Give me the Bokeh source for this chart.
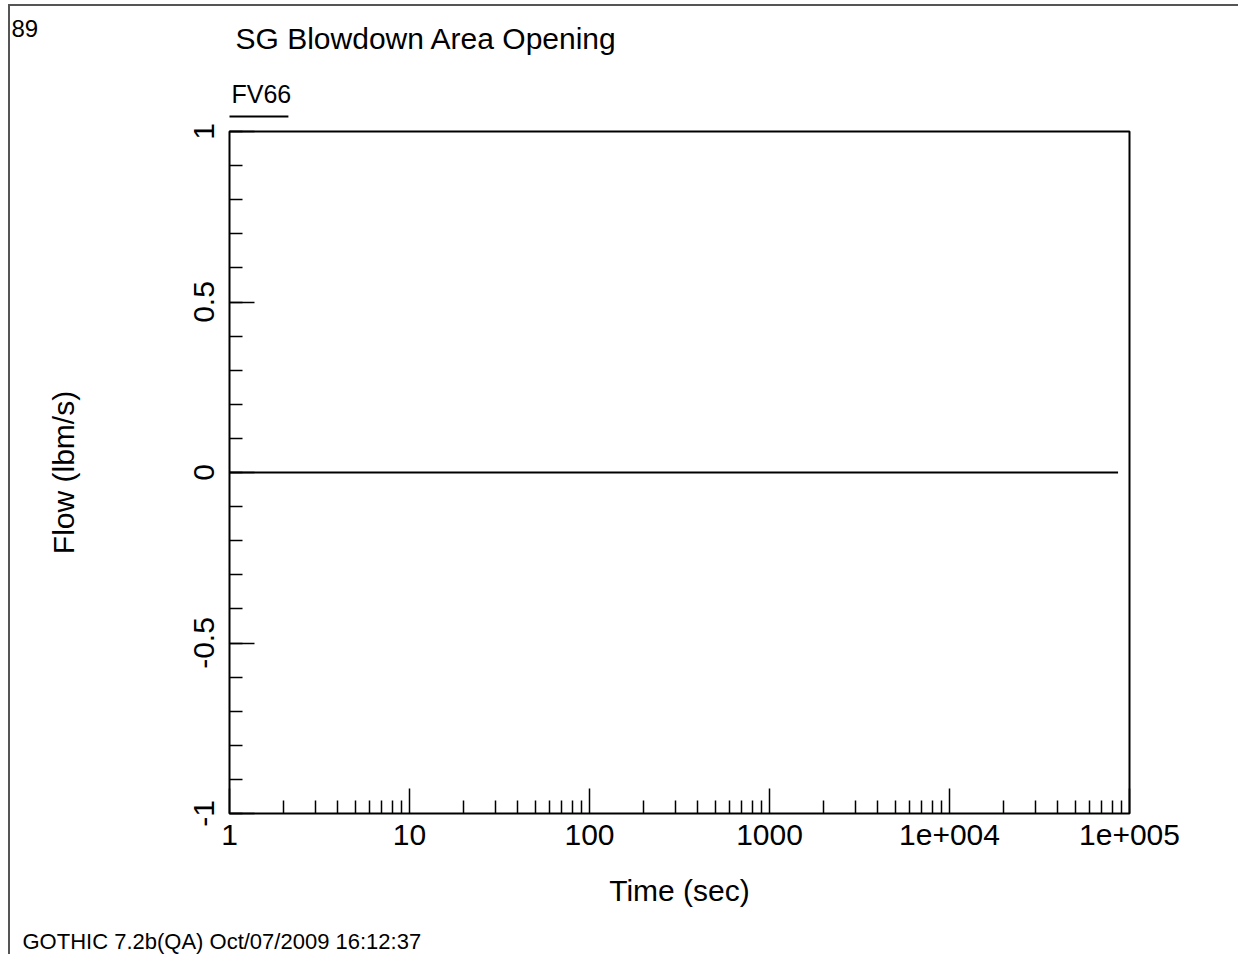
from bokeh.plotting import figure
from bokeh.models import FixedTicker, CustomJSTickFormatter, Label, ColumnDataSource
from bokeh.embed import file_html
from bokeh.resources import INLINE

# ---- data ----
time_sec = [1, 10, 100, 1000, 10000, 86400]
flow_fv66 = [0, 0, 0, 0, 0, 0]
series_name = "FV66"

x_ticks = [1, 10, 100, 1000, 10000, 100000]
x_tick_labels = ["1", "10", "100", "1000", "1e+004", "1e+005"]
y_ticks = [-1, -0.5, 0, 0.5, 1]
y_tick_labels = ["-1", "-0.5", "0", "0.5", "1"]

title_text = "SG Blowdown Area Opening"
page_number = "89"
footer_text = "GOTHIC 7.2b(QA) Oct/07/2009 16:12:37"
x_label = "Time (sec)"
y_label = "Flow (lbm/s)"

FONT = "Liberation Sans"
W, H = 1238, 954
FL, FT, FR, FB = 229, 131, 1129, 813   # frame edges on the canvas

p = figure(width=W, height=H, x_axis_type="log", x_range=(1, 1e5), y_range=(-1, 1),
           output_backend="svg", toolbar_location=None, title=None,
           min_border_left=FL, min_border_right=W - FR, min_border_top=FT,
           min_border_bottom=H - FB)
p.grid.visible = False
p.background_fill_color = "white"
p.border_fill_alpha = 0
p.outline_line_color = "black"
p.outline_line_width = 2
# page border (top and left edges)
p.styles = {"box-shadow": "inset 8px 4px 0 0 white, inset 10px 6px 0 0 #555555",
            "background-color": "white"}

src = ColumnDataSource(dict(t=time_sec, f=flow_fv66))
r = p.line("t", "f", source=src, line_color="black", line_width=2)

minor_x = [m * d for d in [1, 10, 100, 1000, 10000] for m in range(2, 10)]
minor_y = [round(-1 + 0.1 * i, 2) for i in range(21)]

fmt_code = """
for (let i = 0; i < tvals.length; i++) {
  if (Math.abs(tvals[i] - tick) <= 1e-6 * Math.max(1, Math.abs(tvals[i]))) return tlabs[i];
}
return "";
"""

xa = p.xaxis[0]
xa.ticker = FixedTicker(ticks=x_ticks, minor_ticks=minor_x)
xa.formatter = CustomJSTickFormatter(args=dict(tvals=x_ticks, tlabs=x_tick_labels), code=fmt_code)
ya = p.yaxis[0]
ya.ticker = FixedTicker(ticks=y_ticks, minor_ticks=minor_y)
ya.formatter = CustomJSTickFormatter(args=dict(tvals=y_ticks, tlabs=y_tick_labels), code=fmt_code)

for ax in (xa, ya):
    ax.axis_line_color = None
    ax.major_tick_in = 25
    ax.major_tick_out = 0
    ax.minor_tick_in = 13
    ax.minor_tick_out = 0
    ax.major_tick_line_color = "black"
    ax.minor_tick_line_color = "black"
    ax.major_tick_line_width = 1.5
    ax.minor_tick_line_width = 1.5
    ax.major_label_text_font = FONT
    ax.major_label_text_font_size = "30px"
    ax.major_label_text_color = "black"
    ax.axis_label_text_font = FONT
    ax.axis_label_text_font_size = "30px"
    ax.axis_label_text_font_style = "normal"
    ax.axis_label_text_color = "black"

xa.axis_label = x_label
xa.major_label_standoff = 11
xa.axis_label_standoff = 26
ya.axis_label = y_label
ya.major_label_orientation = "vertical"
ya.major_label_standoff = 16
ya.axis_label_standoff = 111

# texts outside the frame (canvas coords, top-left origin)
def add_label(x, y, text, size, place="above", **kw):
    p.add_layout(Label(x=x, y=y, x_units="canvas", y_units="canvas", text=text,
                       text_font=FONT, text_font_size=size, text_color="black",
                       text_baseline="middle", text_align="left", **kw), place)

add_label(235, 38, title_text, "30px")
add_label(231, 93, series_name, "25px")
add_label(11, 28, page_number, "24px")
add_label(22, 941, footer_text, "22px", place="below")

# legend sample line under the series name: a thin filled box (2px-high run of
# no-break spaces with a black background), ~59 px long
sample_len_px = 59
n_sp = round(sample_len_px / (0.278 * 2))
add_label(FL, 116, "\u00a0" * n_sp, "2px", background_fill_color="black",
          background_fill_alpha=1.0)

open("out.html", "w").write(file_html(p, INLINE))
